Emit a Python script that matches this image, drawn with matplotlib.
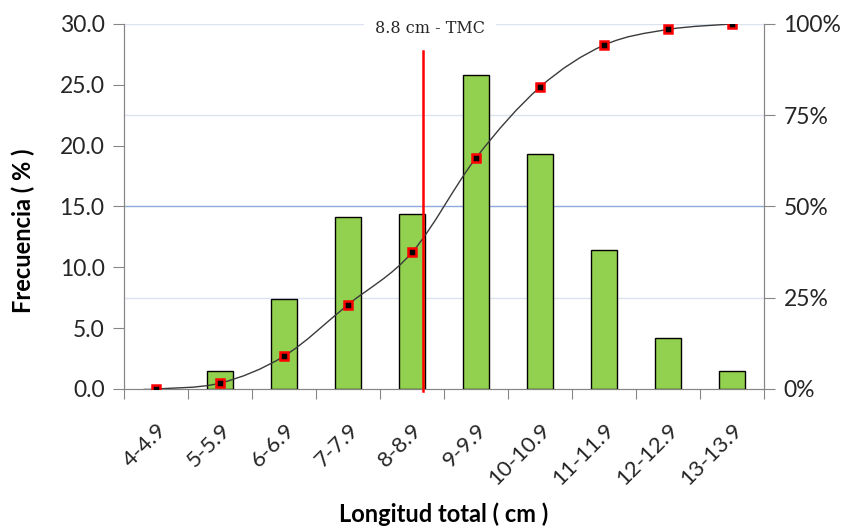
#!/usr/bin/env python3
"""Histograma de longitud total con frecuencia acumulada y TMC."""

import matplotlib

matplotlib.use("Agg")
import matplotlib.pyplot as plt
import numpy as np
from matplotlib.path import Path
from matplotlib.patches import PathPatch

CLASSES = ["4-4.9", "5-5.9", "6-6.9", "7-7.9", "8-8.9",
           "9-9.9", "10-10.9", "11-11.9", "12-12.9", "13-13.9"]
FREQ = [0.0, 1.5, 7.4, 14.1, 14.4, 25.8, 19.3, 11.4, 4.2, 1.5]
CUM_PCT = [0.0, 1.6, 9.0, 23.1, 37.4, 63.3, 82.7, 94.2, 98.5, 100.0]
TMC_POS = 4.17  # 8.8 cm sits inside the 8-8.9 class
TMC_LABEL = "8.8 cm - TMC"
LEFT_TICKS = [0, 5, 10, 15, 20, 25, 30]
RIGHT_TICKS = [0, 25, 50, 75, 100]

SANS = ["Lato", "DejaVu Sans"]
plt.rcParams["font.family"] = SANS

fig = plt.figure(figsize=(8.47, 5.27), dpi=100)
ax = fig.add_axes([0.1464, 0.2619, 0.7556, 0.6926])
ax2 = ax.twinx()

x = np.arange(len(CLASSES))
ax.set_xlim(-0.5, len(CLASSES) - 0.5)
ax.set_ylim(0, 30)
ax2.set_ylim(0, 100)

# gridlines follow the right (percentage) axis
for v in RIGHT_TICKS[1:]:
    col = "#8EA9DB" if v == 50 else "#DCE3F0"
    ax2.axhline(v, color=col, linewidth=1.0, zorder=0)

ax.set_zorder(ax2.get_zorder() + 1)
ax.patch.set_visible(False)

ax.bar(x, FREQ, width=0.41, color="#92D050", edgecolor="black", linewidth=1.0, zorder=2)

# smoothed cumulative curve (Excel style bezier through the points)
pts = np.column_stack([x, np.array(CUM_PCT) * 30 / 100])
verts = [tuple(pts[0])]
codes = [Path.MOVETO]
n = len(pts)
for i in range(n - 1):
    p_prev = pts[max(i - 1, 0)]
    p0, p1 = pts[i], pts[i + 1]
    p_next = pts[min(i + 2, n - 1)]
    c1 = p0 + (p1 - p_prev) / 6
    c2 = p1 - (p_next - p0) / 6
    verts += [tuple(c1), tuple(c2), tuple(p1)]
    codes += [Path.CURVE4] * 3
ax.add_patch(PathPatch(Path(verts, codes), facecolor="none", edgecolor="#3A3A3A",
                       linewidth=1.0, zorder=3))
ax.plot(pts[:, 0], pts[:, 1], linestyle="none", marker="s", markersize=5.5,
        markerfacecolor="black", markeredgecolor="#FF0000", markeredgewidth=1.8, zorder=4)

# TMC line and label
ax.plot([TMC_POS, TMC_POS], [-0.15, 27.8], color="#FF0000", linewidth=1.8, zorder=5,
        clip_on=False)
ax.text(TMC_POS + 0.11, 29.6, TMC_LABEL, family=["DejaVu Serif"],
        fontsize=11.5, ha="center", va="center", color="#262626", zorder=6,
        bbox=dict(facecolor="white", edgecolor="none", boxstyle="square,pad=0.7"))

# axes styling
ax.spines["top"].set_visible(False)
ax2.spines["top"].set_visible(False)
for a in (ax, ax2):
    a.spines["left"].set_color("#868686")
    a.spines["bottom"].set_color("#868686")
    a.spines["right"].set_color("#868686")
ax2.spines["right"].set_linestyle((0, (1, 1)))

ax.set_yticks(LEFT_TICKS)
ax.set_yticklabels([f"{v:.1f}" for v in LEFT_TICKS], fontsize=16.5, color="#262626")
ax.tick_params(axis="y", length=8, color="#868686", pad=6)

ax.set_xticks(np.arange(-0.5, len(CLASSES)), minor=False)
ax.set_xticklabels([])
ax.set_xticks(x, minor=True)
ax.set_xticklabels(CLASSES, minor=True, rotation=45, ha="right", va="top",
                   rotation_mode="anchor", fontsize=16, color="#262626")
ax.tick_params(axis="x", which="major", length=7, color="#868686")
ax.tick_params(axis="x", which="minor", length=0, pad=22)

ax2.set_yticks(RIGHT_TICKS)
ax2.set_yticklabels([f"{v}%" for v in RIGHT_TICKS], fontsize=16.5, color="#262626")
ax2.tick_params(axis="y", length=8, color="#868686", pad=6)

fig.text(23 / 847, 1 - 231 / 527, "Frecuencia ( % )", rotation=90, fontsize=17,
         fontweight="bold", ha="center", va="center", color="black")
fig.text(444 / 847, 1 - 514 / 527, "Longitud total ( cm )", fontsize=17,
         fontweight="bold", ha="center", va="center", color="black")

fig.savefig("out.png", dpi=100)
